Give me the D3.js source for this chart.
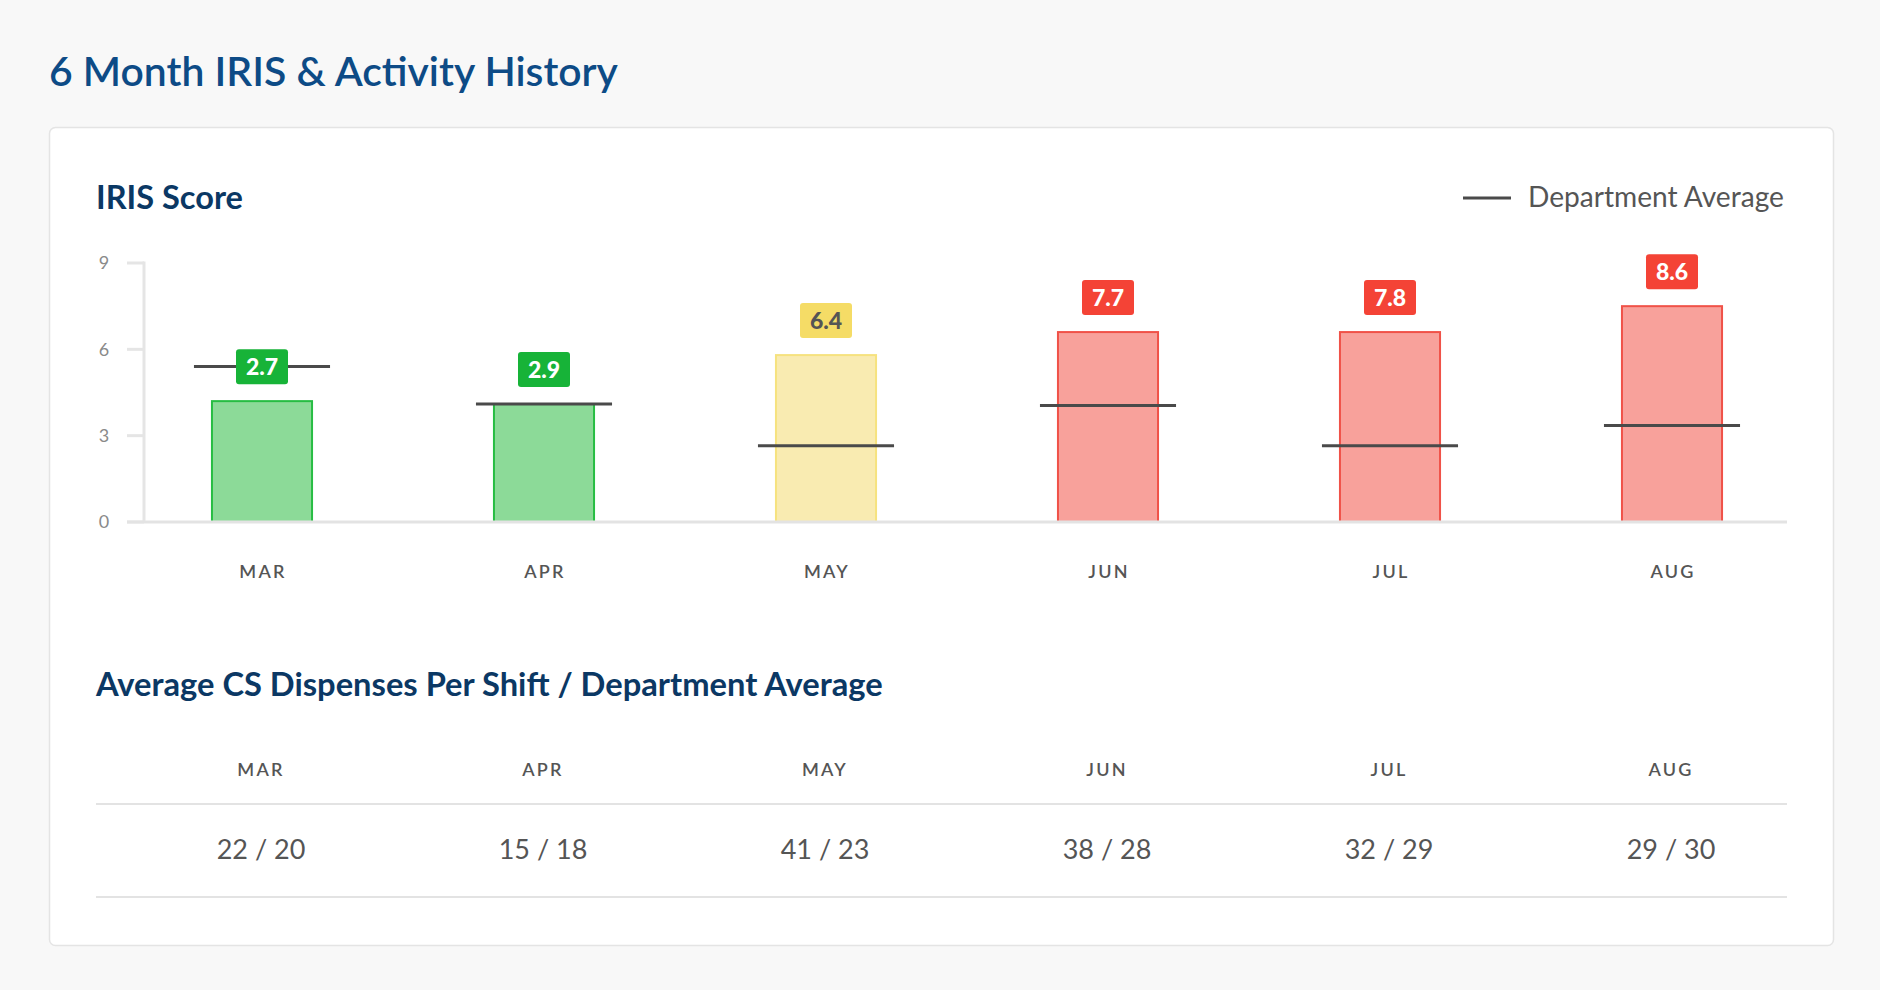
<!DOCTYPE html>
<html>
<head>
<meta charset="utf-8">
<script src="https://cdn.jsdelivr.net/npm/d3@7"></script>
<style>
  html, body { margin: 0; padding: 0; background: #f8f8f8; }
  svg { display: block; font-family: Lato, "Open Sans", sans-serif; }
</style>
</head>
<body>
<svg id="chart" width="1880" height="990"></svg>
<script>
// ---------- data ----------
const months = ["MAR", "APR", "MAY", "JUN", "JUL", "AUG"];
const barValues = [4.2, 4.1, 5.8, 6.6, 6.6, 7.5];
const scoreLabels = [2.7, 2.9, 6.4, 7.7, 7.8, 8.6];
const deptAverage = [5.4, 4.1, 2.65, 4.05, 2.65, 3.35];
const yTicks = [0, 3, 6, 9];
const csDispenses = [22, 15, 41, 38, 32, 29];
const csDeptAverage = [20, 18, 23, 28, 29, 30];

const palette = {
  good: { fill: "#8cda98", stroke: "#27bd43", badge: "#17b338", text: "#ffffff" },
  warn: { fill: "#f9ebb1", stroke: "#f6e27f", badge: "#f5dc66", text: "#555555" },
  bad:  { fill: "#f8a19b", stroke: "#f05248", badge: "#f44336", text: "#ffffff" }
};
function status(v) { return v < 5 ? "good" : (v < 7 ? "warn" : "bad"); }

const svg = d3.select("#chart");

function fitText(sel, targetWidth) {
  const node = sel.node();
  const fs = parseFloat(sel.attr("font-size"));
  const w = node.getComputedTextLength();
  if (w > 0) sel.attr("font-size", (fs * targetWidth / w).toFixed(2));
  return sel;
}

// ---------- page title ----------
fitText(svg.append("text")
  .attr("x", 49).attr("y", 86)
  .attr("font-size", 42).attr("font-weight", 600)
  .attr("fill", "#0d4b86")
  .text("6 Month IRIS & Activity History"), 569);

// ---------- card ----------
svg.append("rect")
  .attr("x", 49.5).attr("y", 127.5).attr("width", 1784).attr("height", 818)
  .attr("rx", 6).attr("fill", "#ffffff").attr("stroke", "#e4e4e4").attr("stroke-width", 1.5);

fitText(svg.append("text")
  .attr("x", 96).attr("y", 209)
  .attr("font-size", 30).attr("font-weight", 700)
  .attr("fill", "#0b3864")
  .text("IRIS Score"), 147);

// legend
svg.append("line")
  .attr("x1", 1463).attr("x2", 1511).attr("y1", 198).attr("y2", 198)
  .attr("stroke", "#4a4a4a").attr("stroke-width", 3);
fitText(svg.append("text")
  .attr("x", 1528).attr("y", 206.5)
  .attr("font-size", 25).attr("fill", "#555555")
  .text("Department Average"), 256);

// ---------- scales ----------
const x = d3.scaleBand().domain(months).range([121, 1813])
  .paddingInner(0.638).paddingOuter(0.319);
const y = d3.scaleLinear().domain([0, 9]).range([522, 263]);

// y axis
const yAxisG = svg.append("g");
yAxisG.append("line")
  .attr("x1", 144).attr("x2", 144).attr("y1", y(9) - 1.5).attr("y2", y(0))
  .attr("stroke", "#e5e5e5").attr("stroke-width", 3);
yAxisG.selectAll("line.tick").data(yTicks).join("line")
  .attr("class", "tick")
  .attr("x1", 127).attr("x2", 144)
  .attr("y1", d => y(d)).attr("y2", d => y(d))
  .attr("stroke", "#e5e5e5").attr("stroke-width", 3);
yAxisG.selectAll("text").data(yTicks).join("text")
  .attr("x", 104).attr("y", d => y(d))
  .attr("dy", "0.35em").attr("text-anchor", "middle")
  .attr("font-size", 18).attr("fill", "#8a8a8a")
  .text(d => d);

// bars
const data = months.map((m, i) => ({
  m, bar: barValues[i], label: scoreLabels[i], avg: deptAverage[i], st: status(scoreLabels[i])
}));

svg.append("g").selectAll("rect").data(data).join("rect")
  .attr("x", d => x(d.m) + 1)
  .attr("width", x.bandwidth() - 2)
  .attr("y", d => y(d.bar))
  .attr("height", d => y(0) - y(d.bar))
  .attr("fill", d => palette[d.st].fill)
  .attr("stroke", d => palette[d.st].stroke)
  .attr("stroke-width", 2);

// baseline
svg.append("line")
  .attr("x1", 127).attr("x2", 1787).attr("y1", y(0)).attr("y2", y(0))
  .attr("stroke", "#e3e3e3").attr("stroke-width", 3);

// department average lines
svg.append("g").selectAll("line").data(data).join("line")
  .attr("x1", d => x(d.m) - 17)
  .attr("x2", d => x(d.m) + x.bandwidth() + 17)
  .attr("y1", d => y(d.avg)).attr("y2", d => y(d.avg))
  .attr("stroke", "#4a4a4a").attr("stroke-width", 3);

// badges
const badge = svg.append("g").selectAll("g").data(data).join("g")
  .attr("transform", d => `translate(${x(d.m) + x.bandwidth() / 2},${y(d.bar) - 17})`);
badge.append("rect")
  .attr("x", -26).attr("y", -35).attr("width", 52).attr("height", 35)
  .attr("rx", 3).attr("fill", d => palette[d.st].badge);
badge.append("text")
  .attr("x", 0).attr("y", -17.5).attr("dy", "0.36em")
  .attr("text-anchor", "middle").attr("font-size", 23).attr("font-weight", 900)
  .attr("fill", d => palette[d.st].text)
  .text(d => d.label.toFixed(1));

// x axis labels
svg.append("g").selectAll("text").data(months).join("text")
  .attr("x", d => x(d) + x.bandwidth() / 2 + 1)
  .attr("y", 572).attr("dy", "0.36em")
  .attr("text-anchor", "middle")
  .attr("font-size", 18).attr("font-weight", 600).attr("letter-spacing", 2.2)
  .attr("fill", "#555555")
  .text(d => d);

// ---------- dispenses table ----------
fitText(svg.append("text")
  .attr("x", 96).attr("y", 696)
  .attr("font-size", 30).attr("font-weight", 700)
  .attr("fill", "#0b3864")
  .text("Average CS Dispenses Per Shift / Department Average"), 787);

svg.append("g").selectAll("text").data(months).join("text")
  .attr("x", d => x(d) + x.bandwidth() / 2 - 1)
  .attr("y", 770).attr("dy", "0.36em")
  .attr("text-anchor", "middle")
  .attr("font-size", 18).attr("font-weight", 600).attr("letter-spacing", 2.2)
  .attr("fill", "#555555")
  .text(d => d);

svg.append("line")
  .attr("x1", 96).attr("x2", 1787).attr("y1", 804).attr("y2", 804)
  .attr("stroke", "#e3e3e3").attr("stroke-width", 2);

svg.append("g").selectAll("text").data(months).join("text")
  .attr("x", d => x(d) + x.bandwidth() / 2 - 1)
  .attr("y", 849).attr("dy", "0.36em")
  .attr("text-anchor", "middle")
  .attr("font-size", 27).attr("fill", "#555555")
  .text((d, i) => `${csDispenses[i]} / ${csDeptAverage[i]}`);

svg.append("line")
  .attr("x1", 96).attr("x2", 1787).attr("y1", 897).attr("y2", 897)
  .attr("stroke", "#e3e3e3").attr("stroke-width", 2);
</script>
</body>
</html>
